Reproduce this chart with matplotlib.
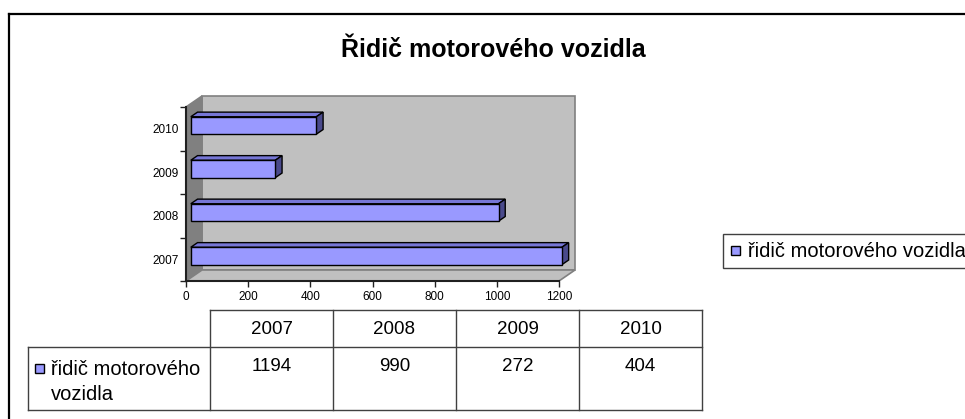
import matplotlib.pyplot as plt
from matplotlib.patches import Polygon, Rectangle

plt.rcParams.update({"font.family": ["Liberation Sans", "DejaVu Sans"]})

W, H = 965, 419

years = ["2007", "2008", "2009", "2010"]
values = [1194, 990, 272, 404]
series_name = "řidič motorového vozidla"
title = "Řidič motorového vozidla"
x_ticks = [0, 200, 400, 600, 800, 1000, 1200]

BAR_FRONT = "#9999ff"
BAR_TOP = "#7676d6"
BAR_SIDE = "#4a4a8c"
LINE = "#404040"


def fx(px):
    return px / W


def fy(py):
    return 1 - py / H


fig = plt.figure(figsize=(W / 100, H / 100), dpi=100)

# pixel-space overlay for frame, table and legend
lay = fig.add_axes([0, 0, 1, 1])
lay.set_xlim(0, W)
lay.set_ylim(H, 0)
lay.axis("off")

# chart area frame (runs off the right and bottom edge)
lay.plot([9, 9], [14, H + 5], color="black", lw=1.6, clip_on=False)
lay.plot([9, W + 5], [14, 14], color="black", lw=1.6, clip_on=False)

lay.text(493, 57, title, ha="center", va="baseline", fontsize=18, fontweight="bold")

### 3D bar plot ###
ax = fig.add_axes([fx(186), fy(281), (559 - 186) / W, (281 - 107) / H])
n = len(years)
xmax = x_ticks[-1]
ax.set_xlim(0, xmax)
ax.set_ylim(0, n)
ax.set_facecolor("none")

DEPTH = (16, 11)  # back wall offset in pixels


def shift(x, y, frac):
    disp = ax.transData.transform((x, y))
    return ax.transData.inverted().transform(disp + (DEPTH[0] * frac, DEPTH[1] * frac))


back = [shift(0, 0, 1), shift(xmax, 0, 1), shift(xmax, n, 1), shift(0, n, 1)]
left = [(0, 0), (0, n), shift(0, n, 1), shift(0, 0, 1)]
floor = [(0, 0), (xmax, 0), shift(xmax, 0, 1), shift(0, 0, 1)]
ax.add_patch(Polygon(back, closed=True, fc="#c0c0c0", ec="#808080", lw=1.2, clip_on=False, zorder=0.5))
ax.add_patch(Polygon(left, closed=True, fc="#808080", ec="#808080", lw=1.2, clip_on=False, zorder=0.6))
ax.add_patch(Polygon(floor, closed=True, fc="#c0c0c0", ec="#808080", lw=1.2, clip_on=False, zorder=0.6))

f0, f1 = 0.3, 0.72
for i, v in enumerate(values):
    y0, y1 = i + 0.3, i + 0.7
    front = [shift(0, y0, f0), shift(v, y0, f0), shift(v, y1, f0), shift(0, y1, f0)]
    top = [shift(0, y1, f0), shift(v, y1, f0), shift(v, y1, f1), shift(0, y1, f1)]
    side = [shift(v, y0, f0), shift(v, y0, f1), shift(v, y1, f1), shift(v, y1, f0)]
    for pts, c in ((top, BAR_TOP), (side, BAR_SIDE), (front, BAR_FRONT)):
        ax.add_patch(Polygon(pts, closed=True, fc=c, ec="black", lw=1.0,
                             joinstyle="miter", clip_on=False, zorder=1))

for s in ("top", "right"):
    ax.spines[s].set_visible(False)
for s in ("left", "bottom"):
    ax.spines[s].set_color("#202020")
    ax.spines[s].set_linewidth(1.5)
    ax.spines[s].set_zorder(2)

ax.set_xticks(x_ticks)
ax.set_xticklabels([str(t) for t in x_ticks], fontsize=8.5)
ax.set_yticks(range(n + 1))
ax.set_yticklabels([])
ax.set_yticks([i + 0.5 for i in range(n)], minor=True)
ax.set_yticklabels(years, minor=True, fontsize=8.5)
ax.tick_params(axis="both", which="major", length=4, width=1, color="#202020", direction="out")
ax.tick_params(axis="x", pad=3)
ax.tick_params(axis="y", which="minor", length=0, pad=5)

### data table ###
col_left, label_right, tab_right = 28, 210, 702
row_top, row_mid, row_bot = 310, 347, 410
col_w = (tab_right - label_right) / n
col_edges = [label_right + col_w * k for k in range(n + 1)]
tkw = dict(color=LINE, lw=1.0)
lay.plot([label_right, tab_right], [row_top, row_top], **tkw)
lay.plot([col_left, tab_right], [row_mid, row_mid], **tkw)
lay.plot([col_left, tab_right], [row_bot, row_bot], **tkw)
lay.plot([col_left, col_left], [row_mid, row_bot], **tkw)
for xe in col_edges:
    lay.plot([xe, xe], [row_top, row_bot], **tkw)

for k, (yr, v) in enumerate(zip(years, values)):
    cx = (col_edges[k] + col_edges[k + 1]) / 2
    lay.text(cx, (row_top + row_mid) / 2 + 1, yr, ha="center", va="center", fontsize=13.5)
    lay.text(cx, 366, str(v), ha="center", va="center", fontsize=13.5)

lay.add_patch(Rectangle((35, 364), 9, 9, fc=BAR_FRONT, ec="black", lw=1.0))
name_a, name_b = series_name.rsplit(" ", 1)
lay.text(51, 369, name_a, ha="left", va="center", fontsize=14.5)
lay.text(51, 394, name_b, ha="left", va="center", fontsize=14.5)

### legend ###
lay.add_patch(Rectangle((723, 234), 260, 34, fc="white", ec=LINE, lw=1.0, clip_on=False))
lay.add_patch(Rectangle((731, 246), 9, 9, fc=BAR_FRONT, ec="black", lw=1.0))
lay.text(748, 251, series_name, ha="left", va="center", fontsize=14.5)

fig.savefig("out.png", dpi=100)
